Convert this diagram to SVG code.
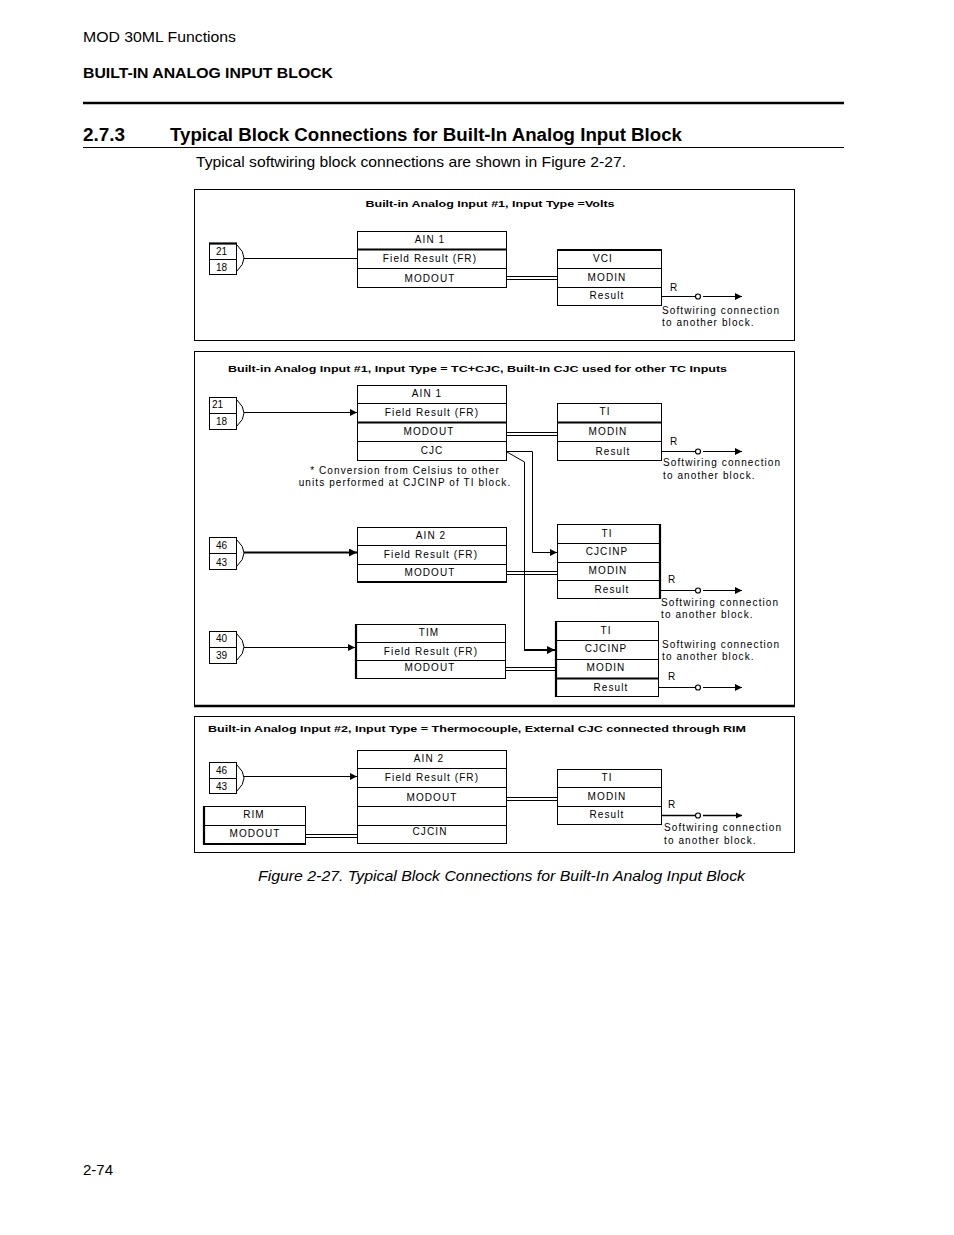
<svg xmlns="http://www.w3.org/2000/svg" width="954" height="1235" viewBox="0 0 954 1235">
<style>
.bx{fill:none;stroke:#000;stroke-width:1}
.ln{fill:none;stroke:#000;stroke-width:1}
.tk{fill:none;stroke:#000;stroke-width:2.2}
.t{font-family:"Liberation Sans",Arial,sans-serif;font-size:10px;letter-spacing:1.1px;fill:#000}
.c{text-anchor:middle}
.n{font-family:"Liberation Sans",Arial,sans-serif;font-size:10px;fill:#000}
.hd{font-family:"Liberation Sans",Arial,sans-serif;fill:#000}
.pt{font-family:"Liberation Sans",Arial,sans-serif;font-size:9.5px;font-weight:bold;fill:#000}
</style>
<defs>
<marker id="ar" viewBox="0 0 10 10" refX="10" refY="5" markerWidth="7" markerHeight="7" markerUnits="userSpaceOnUse" orient="auto">
<path d="M0,0 L10,5 L0,10 z" fill="#000"/>
</marker>
<marker id="ar2" viewBox="0 0 10 10" refX="10" refY="5" markerWidth="4" markerHeight="4" orient="auto">
<path d="M0,0 L10,5 L0,10 z" fill="#000"/>
</marker>
</defs>
<rect width="954" height="1235" fill="#fff"/>

<g id="header">
<text class="hd" x="83" y="42" font-size="15" textLength="153" lengthAdjust="spacingAndGlyphs">MOD 30ML Functions</text>
<text class="hd" x="83" y="78" font-size="14.5" font-weight="bold" textLength="250" lengthAdjust="spacingAndGlyphs">BUILT-IN ANALOG INPUT BLOCK</text>
<line x1="83" y1="103" x2="844" y2="103" stroke="#000" stroke-width="2.5"/>
<text class="hd" x="83" y="141" font-size="18" font-weight="bold" textLength="42" lengthAdjust="spacingAndGlyphs">2.7.3</text>
<text class="hd" x="170" y="141" font-size="18" font-weight="bold" textLength="512" lengthAdjust="spacingAndGlyphs">Typical Block Connections for Built-In Analog Input Block</text>
<line x1="83" y1="147.5" x2="844" y2="147.5" stroke="#000" stroke-width="1"/>
<text class="hd" x="196" y="167" font-size="15" textLength="430" lengthAdjust="spacingAndGlyphs">Typical softwiring block connections are shown in Figure 2-27.</text>
</g>

<!-- Panel 1 -->
<g id="panel1">
<rect class="bx" x="194.5" y="189.5" width="600" height="151"/>
<text class="pt c" x="490" y="207" textLength="249" lengthAdjust="spacingAndGlyphs">Built-in Analog Input #1, Input Type =Volts</text>
</g>
<g id="p1-term">
<rect class="bx" x="209.5" y="243.5" width="27" height="31"/>
<line class="tk" x1="209" y1="243.5" x2="237" y2="243.5" stroke-width="1.8"/>
<line class="ln" x1="209" y1="259.5" x2="237" y2="259.5"/>
<text class="n" x="216" y="255">21</text>
<text class="n" x="216" y="271">18</text>
</g>
<g id="p1-ain1">
<rect class="bx" x="357.5" y="231.5" width="149" height="56"/>
<line class="tk" x1="357" y1="249.5" x2="507" y2="249.5"/>
<line class="ln" x1="357" y1="268.5" x2="507" y2="268.5"/>
<text class="t c" x="430" y="243">AIN 1</text>
<text class="t c" x="430" y="262">Field Result (FR)</text>
<text class="t c" x="430" y="282">MODOUT</text>
</g>
<g id="p1-vci">
<rect class="bx" x="557.5" y="249.5" width="104" height="56"/>
<line class="tk" x1="557" y1="250" x2="662" y2="250"/>
<line class="ln" x1="557" y1="268.5" x2="662" y2="268.5"/>
<line class="ln" x1="557" y1="287.5" x2="662" y2="287.5"/>
<text class="t c" x="603" y="262">VCI</text>
<text class="t c" x="607" y="281">MODIN</text>
<text class="t c" x="607" y="299">Result</text>
<text class="t" x="670" y="291">R</text>
<text class="t" x="662" y="314">Softwiring connection</text>
<text class="t" x="662" y="326">to another block.</text>
</g>

<!-- Panel 2 -->
<g id="panel2">
<line class="ln" x1="194" y1="351.5" x2="795" y2="351.5"/>
<line class="ln" x1="194.5" y1="351" x2="194.5" y2="707"/>
<line class="ln" x1="794.5" y1="351" x2="794.5" y2="707"/>
<line x1="194" y1="706" x2="795" y2="706" stroke="#000" stroke-width="2.5"/>
<text class="pt" x="228" y="372" textLength="499" lengthAdjust="spacingAndGlyphs">Built-in Analog Input #1, Input Type = TC+CJC, Built-In CJC used for other TC Inputs</text>
<text class="t c" x="405" y="474" letter-spacing="0.7">* Conversion from Celsius to other</text>
<text class="t c" x="405" y="486" letter-spacing="0.35">units performed at CJCINP of TI block.</text>
</g>
<g id="p2-term1">
<rect class="bx" x="209.5" y="397.5" width="27" height="32"/>
<line class="ln" x1="209" y1="413.5" x2="237" y2="413.5"/>
<text class="n" x="212" y="408">21</text>
<text class="n" x="216" y="425">18</text>
</g>
<g id="p2-ain1">
<rect class="bx" x="357.5" y="385.5" width="149" height="75"/>
<line class="ln" x1="357" y1="403.5" x2="507" y2="403.5"/>
<line class="tk" x1="357" y1="422.5" x2="507" y2="422.5"/>
<line class="ln" x1="357" y1="441.5" x2="507" y2="441.5"/>
<text class="t c" x="427" y="397">AIN 1</text>
<text class="t c" x="432" y="416">Field Result (FR)</text>
<text class="t c" x="429" y="435">MODOUT</text>
<text class="t c" x="432" y="454">CJC</text>
</g>
<g id="p2-ti1">
<rect class="bx" x="557.5" y="403.5" width="104" height="57"/>
<line class="tk" x1="557" y1="422.5" x2="662" y2="422.5"/>
<line class="ln" x1="557" y1="441.5" x2="662" y2="441.5"/>
<text class="t c" x="605" y="415">TI</text>
<text class="t c" x="608" y="435">MODIN</text>
<text class="t c" x="613" y="455">Result</text>
<text class="t" x="670" y="445">R</text>
<text class="t" x="663" y="466">Softwiring connection</text>
<text class="t" x="663" y="479">to another block.</text>
</g>
<g id="p2-term2">
<rect class="bx" x="209.5" y="537.5" width="27" height="32"/>
<line class="ln" x1="209" y1="553.5" x2="237" y2="553.5"/>
<text class="n" x="216" y="549">46</text>
<text class="n" x="216" y="566">43</text>
</g>
<g id="p2-ain2">
<rect class="bx" x="357.5" y="527.5" width="149" height="54"/>
<line class="ln" x1="357" y1="545.5" x2="507" y2="545.5"/>
<line class="ln" x1="357" y1="564.5" x2="507" y2="564.5"/>
<line class="tk" x1="357" y1="582" x2="507" y2="582"/>
<text class="t c" x="431" y="539">AIN 2</text>
<text class="t c" x="431" y="558">Field Result (FR)</text>
<text class="t c" x="430" y="576">MODOUT</text>
</g>
<g id="p2-ti2">
<rect class="bx" x="557.5" y="524.5" width="102" height="74"/>
<line class="tk" x1="660" y1="524" x2="660" y2="599" stroke-width="1.6"/>
<line class="ln" x1="557" y1="543.5" x2="660" y2="543.5"/>
<line class="ln" x1="557" y1="562.5" x2="660" y2="562.5"/>
<line class="ln" x1="557" y1="580.5" x2="660" y2="580.5"/>
<text class="t c" x="607" y="537">TI</text>
<text class="t c" x="607" y="555">CJCINP</text>
<text class="t c" x="608" y="574">MODIN</text>
<text class="t c" x="612" y="593">Result</text>
<text class="t" x="668" y="583">R</text>
<text class="t" x="661" y="606">Softwiring connection</text>
<text class="t" x="661" y="618">to another block.</text>
</g>
<g id="p2-term3">
<rect class="bx" x="209.5" y="631.5" width="27" height="32"/>
<line class="ln" x1="209" y1="647.5" x2="237" y2="647.5"/>
<text class="n" x="216" y="642">40</text>
<text class="n" x="216" y="659">39</text>
</g>
<g id="p2-tim">
<rect class="bx" x="355.5" y="624.5" width="150" height="54"/>
<line class="tk" x1="356" y1="624" x2="356" y2="679"/>
<line class="ln" x1="355" y1="642.5" x2="506" y2="642.5"/>
<line class="ln" x1="355" y1="660.5" x2="506" y2="660.5"/>
<text class="t c" x="429" y="636">TIM</text>
<text class="t c" x="431" y="655">Field Result (FR)</text>
<text class="t c" x="430" y="671">MODOUT</text>
</g>
<g id="p2-ti3">
<rect class="bx" x="555.5" y="621.5" width="103" height="75"/>
<line class="tk" x1="556" y1="621" x2="556" y2="697"/>
<line class="ln" x1="555" y1="640.5" x2="659" y2="640.5"/>
<line class="ln" x1="555" y1="659.5" x2="659" y2="659.5"/>
<line class="tk" x1="555" y1="678.5" x2="659" y2="678.5" stroke-width="1.6"/>
<text class="t c" x="606" y="634">TI</text>
<text class="t c" x="606" y="652">CJCINP</text>
<text class="t c" x="606" y="671">MODIN</text>
<text class="t c" x="611" y="691">Result</text>
<text class="t" x="668" y="680">R</text>
<text class="t" x="662" y="648">Softwiring connection</text>
<text class="t" x="662" y="660">to another block.</text>
</g>

<!-- Panel 3 -->
<g id="panel3">
<rect class="bx" x="194.5" y="716.5" width="600" height="136"/>
<text class="pt" x="208" y="732" textLength="538" lengthAdjust="spacingAndGlyphs">Built-in Analog Input #2, Input Type = Thermocouple, External CJC connected through RIM</text>
</g>
<g id="p3-term">
<rect class="bx" x="209.5" y="762.5" width="27" height="31"/>
<line class="ln" x1="209" y1="778.5" x2="237" y2="778.5"/>
<text class="n" x="216" y="774">46</text>
<text class="n" x="216" y="790">43</text>
</g>
<g id="p3-ain2">
<rect class="bx" x="357.5" y="750.5" width="149" height="93"/>
<line class="ln" x1="357" y1="768.5" x2="507" y2="768.5"/>
<line class="ln" x1="357" y1="787.5" x2="507" y2="787.5"/>
<line class="ln" x1="357" y1="806.5" x2="507" y2="806.5"/>
<line class="ln" x1="357" y1="825.5" x2="507" y2="825.5"/>
<text class="t c" x="429" y="762">AIN 2</text>
<text class="t c" x="432" y="781">Field Result (FR)</text>
<text class="t c" x="432" y="801">MODOUT</text>
<text class="t c" x="430" y="835">CJCIN</text>
</g>
<g id="p3-ti">
<rect class="bx" x="557.5" y="769.5" width="104" height="55"/>
<line class="ln" x1="557" y1="787.5" x2="662" y2="787.5"/>
<line class="ln" x1="557" y1="806.5" x2="662" y2="806.5"/>
<text class="t c" x="607" y="781">TI</text>
<text class="t c" x="607" y="800">MODIN</text>
<text class="t c" x="607" y="818">Result</text>
<text class="t" x="668" y="808">R</text>
<text class="t" x="664" y="831">Softwiring connection</text>
<text class="t" x="664" y="844">to another block.</text>
</g>
<g id="p3-rim">
<rect class="bx" x="203.5" y="806.5" width="102" height="37"/>
<line class="tk" x1="204" y1="806" x2="204" y2="845"/>
<line class="tk" x1="203" y1="844" x2="306" y2="844"/>
<line class="ln" x1="203" y1="825.5" x2="306" y2="825.5"/>
<text class="t c" x="254" y="818">RIM</text>
<text class="t c" x="255" y="837">MODOUT</text>
</g>

<g id="connectors">
<path class="ln" d="M237,245 Q251,258 237,271"/>
<line class="ln" x1="244" y1="258.5" x2="357" y2="258.5"/>
<line class="ln" x1="506" y1="276.5" x2="557" y2="276.5"/>
<line class="ln" x1="506" y1="279.5" x2="557" y2="279.5"/>
<line class="ln" x1="661" y1="296.5" x2="695" y2="296.5"/>
<circle cx="698" cy="296.5" r="2.5" fill="#fff" stroke="#000" stroke-width="1.2"/>
<line class="ln" x1="703" y1="296.5" x2="742" y2="296.5" marker-end="url(#ar)"/>
<path class="ln" d="M237,400 Q251,413 237,426"/>
<line class="ln" x1="244" y1="412.5" x2="357" y2="412.5" marker-end="url(#ar)"/>
<line class="ln" x1="506" y1="432.5" x2="557" y2="432.5"/>
<line class="ln" x1="506" y1="435.5" x2="557" y2="435.5"/>
<line class="ln" x1="661" y1="451.5" x2="695" y2="451.5"/>
<circle cx="698" cy="451.5" r="2.5" fill="#fff" stroke="#000" stroke-width="1.2"/>
<line class="ln" x1="703" y1="451.5" x2="742" y2="451.5" marker-end="url(#ar)"/>
<polyline class="ln" points="506,451.5 532.5,451.5 532.5,552.5 557,552.5" marker-end="url(#ar)"/>
<polyline class="ln" points="507,452 524.5,462 524.5,650" stroke-width="1.2"/>
<line x1="524" y1="650" x2="555" y2="650" stroke="#000" stroke-width="2" marker-end="url(#ar2)"/>
<path class="ln" d="M237,540 Q251,553 237,566"/>
<line x1="244" y1="552.5" x2="357" y2="552.5" stroke="#000" stroke-width="2" marker-end="url(#ar2)"/>
<line class="ln" x1="506" y1="571.5" x2="557" y2="571.5"/>
<line class="ln" x1="506" y1="574.5" x2="557" y2="574.5"/>
<line class="ln" x1="660" y1="590.5" x2="695" y2="590.5"/>
<circle cx="698" cy="590.5" r="2.5" fill="#fff" stroke="#000" stroke-width="1.2"/>
<line class="ln" x1="703" y1="590.5" x2="742" y2="590.5" marker-end="url(#ar)"/>
<path class="ln" d="M237,634 Q251,647 237,660"/>
<line class="ln" x1="244" y1="647.5" x2="355" y2="647.5" marker-end="url(#ar)"/>
<line class="ln" x1="505" y1="667.5" x2="555" y2="667.5"/>
<line class="ln" x1="505" y1="670.5" x2="555" y2="670.5"/>
<line class="ln" x1="658" y1="687.5" x2="695" y2="687.5"/>
<circle cx="698" cy="687.5" r="2.5" fill="#fff" stroke="#000" stroke-width="1.2"/>
<line class="ln" x1="703" y1="687.5" x2="742" y2="687.5" marker-end="url(#ar)"/>
<path class="ln" d="M237,765 Q251,778 237,791"/>
<line class="ln" x1="244" y1="776.5" x2="357" y2="776.5" marker-end="url(#ar)"/>
<line class="ln" x1="506" y1="797.5" x2="557" y2="797.5"/>
<line class="ln" x1="506" y1="800.5" x2="557" y2="800.5"/>
<line x1="661" y1="815.5" x2="695" y2="815.5" stroke="#000" stroke-width="1.6"/>
<circle cx="698" cy="815.5" r="2.5" fill="#fff" stroke="#000" stroke-width="1.2"/>
<line x1="703" y1="815.5" x2="742" y2="815.5" stroke="#000" stroke-width="1.6" marker-end="url(#ar2)"/>
<line class="ln" x1="305" y1="834.5" x2="357" y2="834.5"/>
<line class="ln" x1="305" y1="837.5" x2="357" y2="837.5"/>
</g>

<g id="footer">
<text class="hd" x="258" y="881" font-size="15" font-style="italic" textLength="487" lengthAdjust="spacingAndGlyphs">Figure 2-27.  Typical Block Connections for Built-In Analog Input Block</text>
<text class="hd" x="83" y="1175" font-size="15">2-74</text>
</g>
</svg>
